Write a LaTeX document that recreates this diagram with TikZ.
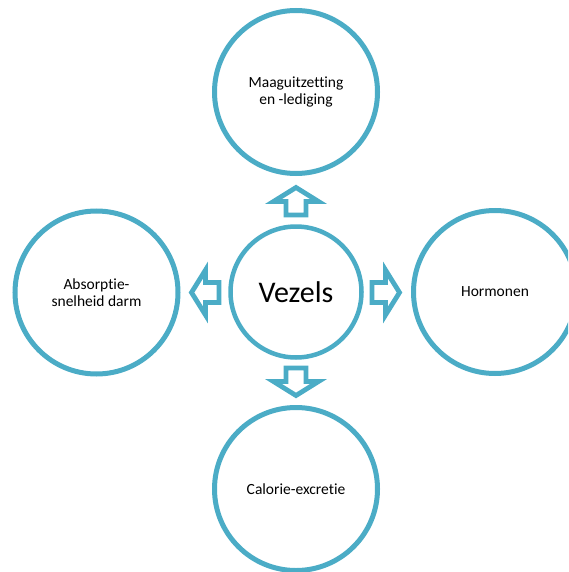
\documentclass[tikz,border=0pt]{standalone}
\usepackage{fontspec}
\setmainfont{Carlito}[Ligatures=NoCommon]
\definecolor{vezelblauw}{RGB}{75,172,198}
\tikzset{
  bol/.style={circle, draw=vezelblauw, line width=5pt, fill=white, minimum size=163pt,
    inner sep=0pt, align=center, font=\fontsize{15.5}{17}\selectfont},
  kern/.style={bol, line width=4.5pt, minimum size=131pt, font=\fontsize{30}{34}\selectfont},
  pijlrand/.style={draw=vezelblauw, line width=4.8pt, fill=white},
  pijl/.pic={
    \draw[pijlrand] (0, 10) -- (13.5, 10) -- (13.5, 22.5) -- (27.5, 0)
      -- (13.5, -22.5) -- (13.5, -10) -- (0, -10) -- cycle;
  },
}

\begin{document}
\begin{tikzpicture}[x=1pt, y=-1pt]
      \useasboundingbox (0, 0) rectangle (568, 572);
      \clip (0, 0) rectangle (568, 572);

      \node[kern] (vezels) at (296, 292) {Vezels};

      \node[bol] (maag) at (296, 92) {Maaguitzetting\\en -lediging};
      \node[bol] (absorptie) at (96.5, 292.5) {Absorptie-\\snelheid darm};
      \node[bol] (hormonen) at (495, 292) {Hormonen};
      \node[bol] (calorie) at (296, 489) {Calorie-excretie};

      \pic[rotate=90] (pijlmaag) at (296, 215) {pijl};
      \pic[rotate=180] (pijlabsorptie) at (219, 292.5) {pijl};
      \pic (pijlhormonen) at (372, 292.5) {pijl};
      \pic[rotate=270] (pijlcalorie) at (296, 368) {pijl};
\end{tikzpicture}
\end{document}
